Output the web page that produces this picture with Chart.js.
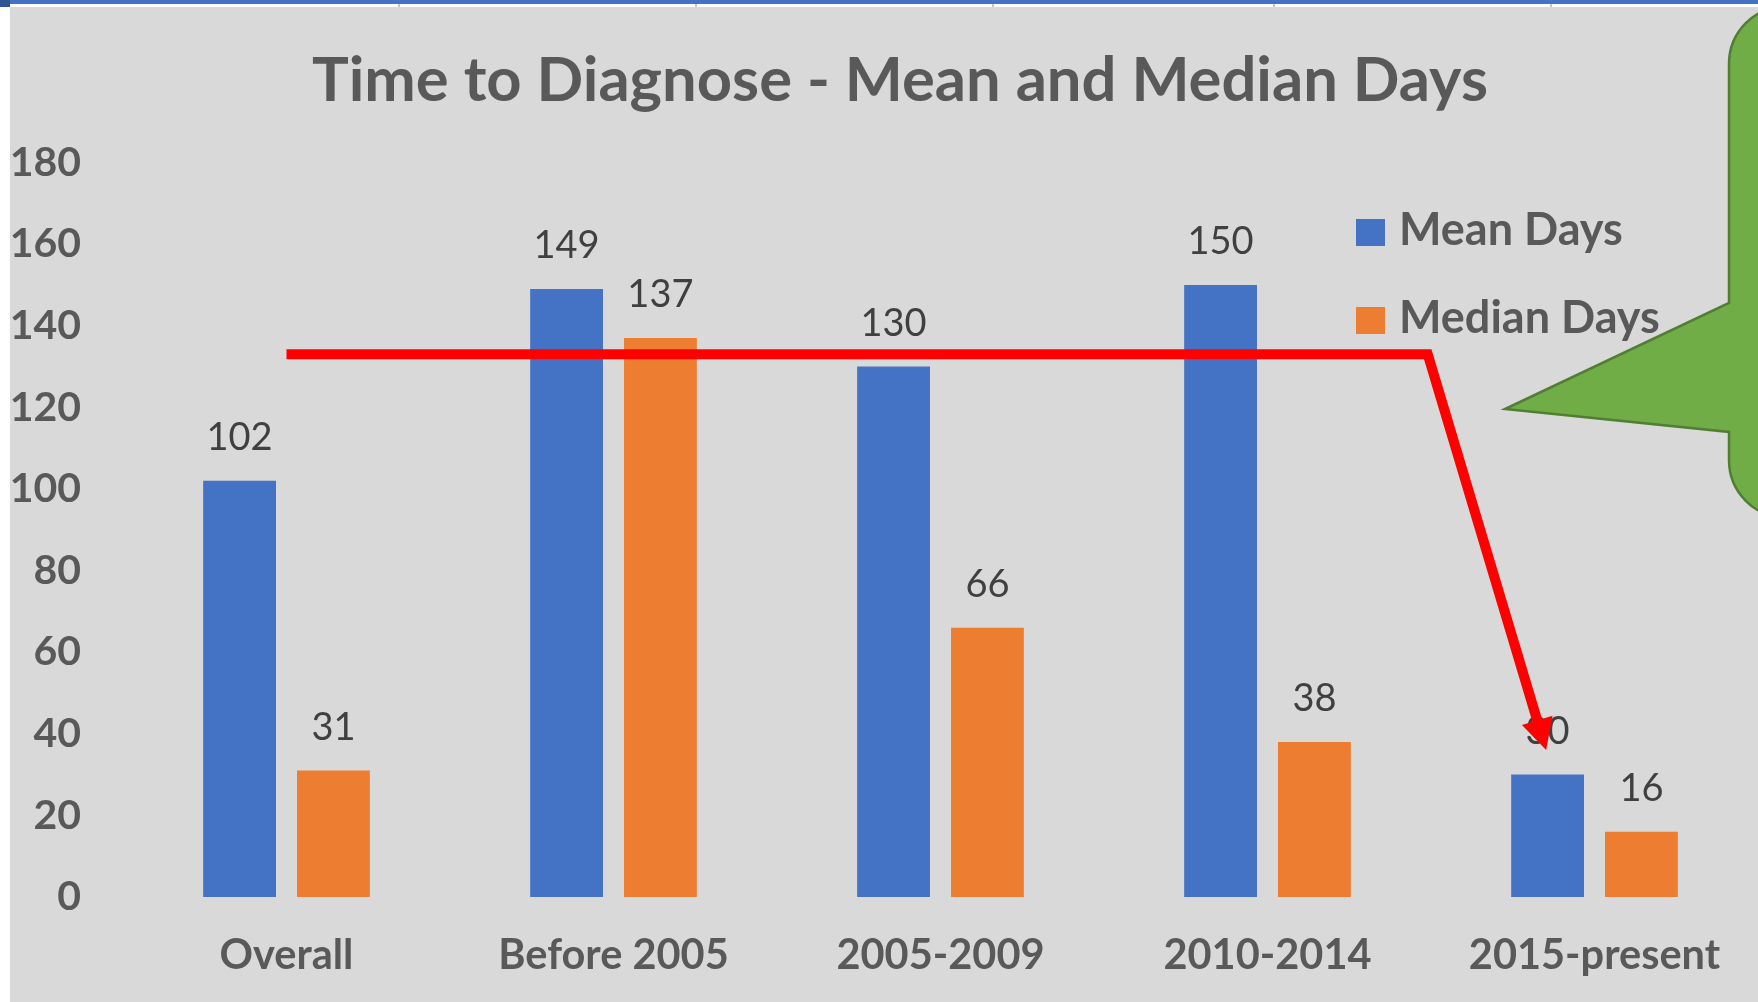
<!DOCTYPE html>
<html>
<head>
<meta charset="utf-8">
<script src="https://cdn.jsdelivr.net/npm/chart.js@4.4.0/dist/chart.umd.min.js"></script>
<style>
html,body{margin:0;padding:0;background:#ffffff;width:1758px;height:1002px;overflow:hidden;}
#topbar{position:absolute;left:0;top:0;width:1758px;height:4px;background:#4472C4;}
#corner{position:absolute;left:0;top:0;width:10px;height:7px;background:#2F5597;}
.sep{position:absolute;top:4px;width:2px;height:3px;background:#c8c8c8;}
#wrap{position:absolute;left:10px;top:7px;width:1748px;height:995px;background:#D9D9D9;}
#chart{position:absolute;left:0;top:0;}
.lg-box{position:absolute;width:29px;height:27px;}
.lg-text{position:absolute;font-family:Lato,sans-serif;font-weight:bold;font-size:45px;line-height:45px;color:#595959;white-space:nowrap;}
</style>
</head>
<body>
<div id="topbar"></div>
<div id="corner"></div>
<div class="sep" style="left:398px"></div>
<div class="sep" style="left:695px"></div>
<div class="sep" style="left:992px"></div>
<div class="sep" style="left:1273px"></div>
<div class="sep" style="left:1550px"></div>
<div id="wrap"><canvas id="chart" width="1748" height="995"></canvas></div>
<div id="legend"></div>
<script>
// ---- data ----
const categories = ['Overall', 'Before 2005', '2005-2009', '2010-2014', '2015-present'];
const meanDays = [102, 149, 130, 150, 30];
const medianDays = [31, 137, 66, 38, 16];
const seriesNames = ['Mean Days', 'Median Days'];
const seriesColors = ['#4472C4', '#ED7D31'];
const yMin = 0, yMax = 180, yStep = 20;
const chartTitle = 'Time to Diagnose - Mean and Median Days';
// red annotation arrow, in [category index, days]
const arrowPath = [[0, 133], [3.49, 133], [3.852, 36]];

// ---- legend (HTML) ----
const legendEl = document.getElementById('legend');
const legendTops = [206, 294];
seriesNames.forEach((name, i) => {
  const b = document.createElement('div');
  b.className = 'lg-box';
  b.style.left = '1356px';
  b.style.top = (legendTops[i] + 13) + 'px';
  b.style.background = seriesColors[i];
  legendEl.appendChild(b);
  const t = document.createElement('div');
  t.className = 'lg-text';
  t.style.left = '1399px';
  t.style.top = legendTops[i] + 'px';
  t.textContent = name;
  legendEl.appendChild(t);
});

// ---- plugins ----
const titleShift = {
  id: 'titleShift',
  afterLayout(chart) {
    if (chart.titleBlock) chart.titleBlock.left += 32;
  }
};

const dataLabels = {
  id: 'dataLabels',
  afterDatasetsDraw(chart) {
    const ctx = chart.ctx;
    ctx.save();
    ctx.font = '38px Lato, sans-serif';
    ctx.fillStyle = '#404040';
    ctx.textAlign = 'center';
    ctx.textBaseline = 'alphabetic';
    chart.data.datasets.forEach((ds, di) => {
      chart.getDatasetMeta(di).data.forEach((bar, j) => {
        ctx.fillText(String(ds.data[j]), bar.x, bar.y - 31);
      });
    });
    ctx.restore();
  }
};

const annotations = {
  id: 'annotations',
  afterDraw(chart) {
    const ctx = chart.ctx;
    const xs = chart.scales.x, ys = chart.scales.y;
    const pts = arrowPath.map(([i, v]) => [xs.getPixelForValue(i), ys.getPixelForValue(v)]);
    const n = pts.length;
    const tip = pts[n - 1], prev = pts[n - 2];
    const dx = tip[0] - prev[0], dy = tip[1] - prev[1];
    const len = Math.hypot(dx, dy);
    const ux = dx / len, uy = dy / len;
    const headLen = 31, headHalf = 16;
    const bx = tip[0] - ux * headLen, by = tip[1] - uy * headLen;
    ctx.save();
    ctx.strokeStyle = '#FF0000';
    ctx.fillStyle = '#FF0000';
    ctx.lineWidth = 10;
    ctx.lineJoin = 'miter';
    ctx.lineCap = 'butt';
    ctx.beginPath();
    ctx.moveTo(pts[0][0], pts[0][1]);
    for (let k = 1; k < n - 1; k++) ctx.lineTo(pts[k][0], pts[k][1]);
    ctx.lineTo(bx + ux * 4, by + uy * 4);
    ctx.stroke();
    ctx.beginPath();
    ctx.moveTo(tip[0], tip[1]);
    ctx.lineTo(bx - uy * headHalf, by + ux * headHalf);
    ctx.lineTo(bx + uy * headHalf, by - ux * headHalf);
    ctx.closePath();
    ctx.fill();

    // green callout (decorative shape at right edge)
    const L = 1719, T = -1, B = 511, R = 1900, r = 58;
    ctx.beginPath();
    ctx.moveTo(L, 296);
    ctx.lineTo(L, T + r);
    ctx.arcTo(L, T, L + r, T, r);
    ctx.lineTo(R, T);
    ctx.lineTo(R, B);
    ctx.lineTo(L + r, B);
    ctx.arcTo(L, B, L, B - r, r);
    ctx.lineTo(L, 425);
    ctx.lineTo(1495, 402);
    ctx.closePath();
    ctx.fillStyle = '#70AD47';
    ctx.fill();
    ctx.strokeStyle = '#507E32';
    ctx.lineWidth = 2.5;
    ctx.lineJoin = 'miter';
    ctx.stroke();
    ctx.restore();
  }
};

new Chart(document.getElementById('chart'), {
  type: 'bar',
  data: {
    labels: categories,
    datasets: [
      { label: seriesNames[0], data: meanDays, backgroundColor: seriesColors[0], borderWidth: 0,
        categoryPercentage: 0.574, barPercentage: 0.776 },
      { label: seriesNames[1], data: medianDays, backgroundColor: seriesColors[1], borderWidth: 0,
        categoryPercentage: 0.574, barPercentage: 0.776 }
    ]
  },
  options: {
    responsive: false,
    animation: false,
    layout: { padding: { left: 0, right: 0, top: 0, bottom: 0 } },
    plugins: {
      legend: { display: false },
      tooltip: { enabled: false },
      title: {
        display: true,
        text: chartTitle,
        color: '#595959',
        font: { family: 'Lato, sans-serif', size: 61.5, weight: 'bold', lineHeight: 1.2 },
        padding: { top: 37, bottom: 44.8 }
      }
    },
    scales: {
      x: {
        grid: { display: false },
        border: { display: false },
        ticks: {
          color: '#595959',
          font: { family: 'Lato, sans-serif', size: 41.5, weight: 'bold', lineHeight: 1.2 },
          padding: 26,
          maxRotation: 0,
          autoSkip: false
        },
        afterFit(axis) { axis.height = 105; }
      },
      y: {
        min: yMin,
        max: yMax,
        grid: { display: false },
        border: { display: false },
        ticks: {
          stepSize: yStep,
          color: '#595959',
          font: { family: 'Lato, sans-serif', size: 41, weight: 'bold' },
          padding: 34
        },
        afterFit(axis) { axis.width = 113; }
      }
    }
  },
  plugins: [titleShift, dataLabels, annotations]
});
</script>
</body>
</html>
